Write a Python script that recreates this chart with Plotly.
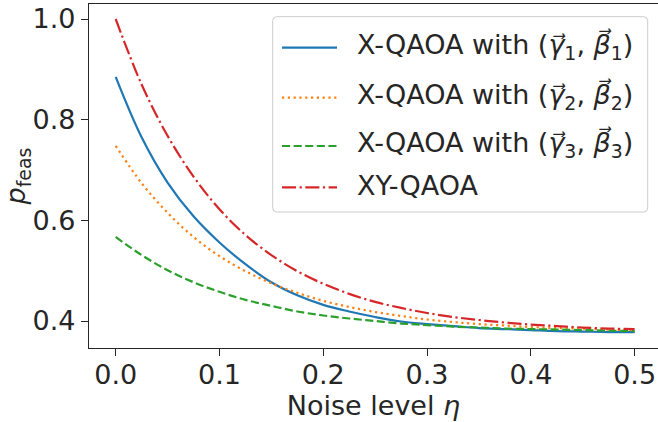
import plotly.graph_objects as go

# Noise level and feasibility probability for each ansatz
eta = [0.0, 0.025, 0.05, 0.075, 0.1, 0.125, 0.15, 0.175, 0.2, 0.225, 0.25,
       0.275, 0.3, 0.325, 0.35, 0.375, 0.4, 0.425, 0.45, 0.475, 0.5]

p_x1 = [0.885, 0.765, 0.675, 0.608, 0.556, 0.513, 0.477, 0.451, 0.432, 0.419, 0.408,
        0.399, 0.394, 0.390, 0.386, 0.384, 0.382, 0.380, 0.379, 0.378, 0.378]
p_x2 = [0.748, 0.674, 0.615, 0.567, 0.529, 0.499, 0.475, 0.456, 0.440, 0.428, 0.418,
        0.410, 0.403, 0.398, 0.394, 0.391, 0.388, 0.386, 0.385, 0.383, 0.382]
p_x3 = [0.567, 0.531, 0.501, 0.477, 0.458, 0.442, 0.430, 0.419, 0.411, 0.405, 0.400,
        0.395, 0.392, 0.389, 0.387, 0.385, 0.384, 0.383, 0.382, 0.381, 0.380]
p_xy = [1.000, 0.870, 0.768, 0.687, 0.622, 0.571, 0.531, 0.499, 0.474, 0.454, 0.438,
        0.426, 0.416, 0.408, 0.402, 0.397, 0.393, 0.390, 0.387, 0.385, 0.384]

x_ticks = [0.0, 0.1, 0.2, 0.3, 0.4, 0.5]
x_ticktext = ["0.0", "0.1", "0.2", "0.3", "0.4", "0.5"]
y_ticks = [0.4, 0.6, 0.8, 1.0]
y_ticktext = ["0.4", "0.6", "0.8", "1.0"]

ARROW = "\u20d7"
names = [
    f"X-QAOA with (<i>γ{ARROW}</i><sub>1</sub>, <i>β{ARROW}</i><sub>1</sub>)",
    f"X-QAOA with (<i>γ{ARROW}</i><sub>2</sub>, <i>β{ARROW}</i><sub>2</sub>)",
    f"X-QAOA with (<i>γ{ARROW}</i><sub>3</sub>, <i>β{ARROW}</i><sub>3</sub>)",
    "XY-QAOA",
]
series = [p_x1, p_x2, p_x3, p_xy]
colors = ["#1f77b4", "#ff7f0e", "#2ca02c", "#d62728"]
lw = 2.2
dashes = [
    "solid",
    f"{1.0*lw:.1f}px,{1.65*lw:.1f}px",
    f"{3.7*lw:.1f}px,{1.6*lw:.1f}px",
    f"{6.4*lw:.1f}px,{1.6*lw:.1f}px,{1.0*lw:.1f}px,{1.6*lw:.1f}px",
]

FONT = "DejaVu Sans"
INK = "#262626"
FS = 27

# figure / plot-area geometry in pixels
W, H = 658, 422
M_L, M_R, M_T, M_B = 89, 0, 4, 74
PW, PH = W - M_L - M_R, H - M_T - M_B


def px_x(px):
    return (px - M_L) / PW


def px_y(py):
    return (H - M_B - py) / PH


fig = go.Figure()
for name, ys, c, d in zip(names, series, colors, dashes):
    fig.add_trace(go.Scatter(
        x=eta, y=ys, mode="lines", name=name, showlegend=False,
        line=dict(color=c, width=lw, dash=d, shape="spline", smoothing=1.0),
    ))

# legend box with rounded corners
bx0, bx1, by0, by1, r = 272.7, 647.7, 16.7, 212.0, 4.0
box_path = (
    f"M {px_x(bx0 + r)},{px_y(by0)} L {px_x(bx1 - r)},{px_y(by0)} "
    f"Q {px_x(bx1)},{px_y(by0)} {px_x(bx1)},{px_y(by0 + r)} "
    f"L {px_x(bx1)},{px_y(by1 - r)} Q {px_x(bx1)},{px_y(by1)} {px_x(bx1 - r)},{px_y(by1)} "
    f"L {px_x(bx0 + r)},{px_y(by1)} Q {px_x(bx0)},{px_y(by1)} {px_x(bx0)},{px_y(by1 - r)} "
    f"L {px_x(bx0)},{px_y(by0 + r)} Q {px_x(bx0)},{px_y(by0)} {px_x(bx0 + r)},{px_y(by0)} Z"
)
fig.add_shape(type="path", path=box_path, xref="paper", yref="paper",
              fillcolor="rgba(255,255,255,0.8)", line=dict(color="#cccccc", width=1))

row_y = [47.7, 97.7, 146.0, 187.3]
for name, c, d, ry in zip(names, colors, dashes, row_y):
    fig.add_shape(type="line", xref="paper", yref="paper",
                  x0=px_x(282), x1=px_x(337), y0=px_y(ry), y1=px_y(ry),
                  line=dict(color=c, width=lw, dash=d))
    fig.add_annotation(text=name, xref="paper", yref="paper",
                       x=px_x(355), y=px_y(ry - 2), xanchor="left", yanchor="middle",
                       showarrow=False, font=dict(family=FONT, size=FS, color=INK))

axis_common = dict(
    showgrid=False, zeroline=False, showline=True, linecolor=INK, linewidth=1.25,
    ticks="outside", ticklen=7, tickwidth=1.25, tickcolor=INK,
    tickfont=dict(family=FONT, size=FS, color=INK),
)

fig.update_layout(
    width=W, height=H, autosize=False,
    margin=dict(l=M_L, r=M_R, t=M_T, b=M_B),
    paper_bgcolor="white", plot_bgcolor="white",
    font=dict(family=FONT, size=FS, color=INK),
    showlegend=False,
    xaxis=dict(
        range=[-0.0257, 0.5225], tickvals=x_ticks, ticktext=x_ticktext,
        mirror=True, ticklabelstandoff=-5,
        title=dict(text="Noise level <i>η</i>", font=dict(family=FONT, size=FS, color=INK), standoff=4),
        **axis_common,
    ),
    yaxis=dict(
        range=[0.3464, 1.0298], tickvals=y_ticks, ticktext=y_ticktext,
        title=dict(text="<i>p</i><sub>feas</sub>", font=dict(family=FONT, size=FS, color=INK), standoff=4),
        **axis_common,
    ),
)

fig.write_html("out.html")
